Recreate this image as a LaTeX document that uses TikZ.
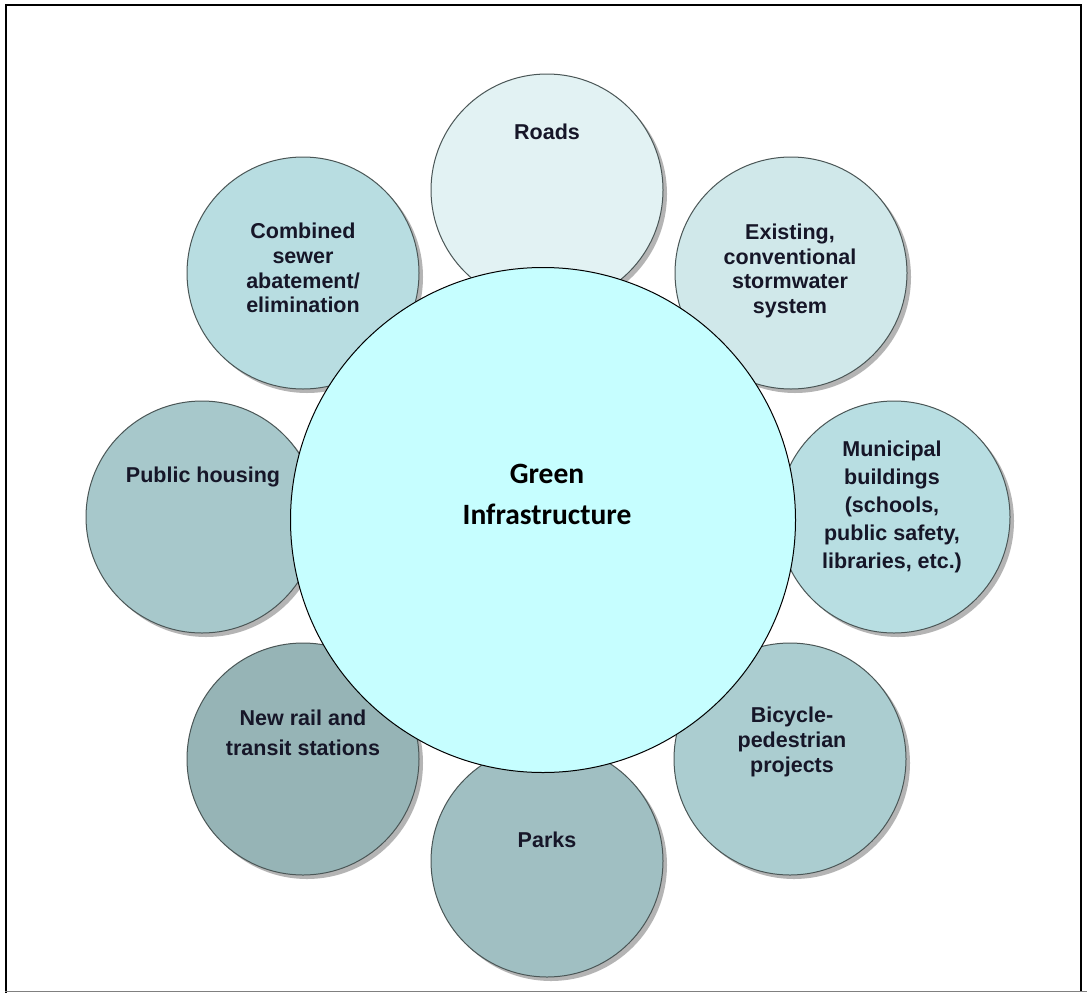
\documentclass[tikz,border=0pt]{standalone}
\usepackage{fontspec}
\setmainfont{Liberation Sans}
\newfontfamily\calfont{Carlito}
\usetikzlibrary{shadows}
\definecolor{cRoads}{HTML}{E2F2F3}
\definecolor{cExist}{HTML}{D0E8EA}
\definecolor{cMunic}{HTML}{B8DEE2}
\definecolor{cComb}{HTML}{B8DDE1}
\definecolor{cHous}{HTML}{A7C8CB}
\definecolor{cRail}{HTML}{96B4B6}
\definecolor{cParks}{HTML}{A0BFC2}
\definecolor{cBike}{HTML}{ABCDD0}
\definecolor{cCenter}{HTML}{C6FEFF}
\definecolor{satline}{HTML}{4A5656}
\definecolor{shadowgray}{HTML}{B4B4B4}
\definecolor{txt}{HTML}{161628}
\begin{document}
\begin{tikzpicture}[x=1pt,y=-1pt,
  sat/.style={circle, draw=satline, line width=1pt, minimum size=232pt, inner sep=0pt,
    drop shadow={shadow xshift=4pt, shadow yshift=-4pt, fill=shadowgray, opacity=1}},
  lbl/.style={align=center, font=\fontsize{21.5}{24.7}\selectfont\bfseries, text=txt, inner sep=0pt},
  hub/.style={circle, draw=black, line width=1pt, fill=cCenter, minimum size=505pt, inner sep=0pt}]
\useasboundingbox (0,0) rectangle (1087,993);
\fill[white] (0,0) rectangle (1087,993);
% frame
\draw[line width=2.5pt] (6,993) -- (6,5) -- (1081,5) -- (1081,991);
\draw[line width=1.5pt, gray] (5,991.5) -- (1087,991.5);
% satellites
\node[sat, fill=cRoads] (roads) at (547,190) {};
\node[sat, fill=cExist] (exist) at (791,273) {};
\node[sat, fill=cComb] (comb) at (303,273) {};
\node[sat, fill=cMunic] (munic) at (894,517) {};
\node[sat, fill=cHous] (hous) at (202,517) {};
\node[sat, fill=cBike] (bike) at (790,759) {};
\node[sat, fill=cRail] (rail) at (303,759) {};
\node[sat, fill=cParks] (parks) at (547,861) {};
% hub
\node[hub] (hub) at (543,520) {};
% labels
\node[lbl] (roads-t) at (547,132) {Roads};
\node[lbl] (exist-t) at (790,271) {Existing,\\conventional\\stormwater\\system};
\node[lbl] (comb-t) at (303,268) {Combined\\sewer\\abatement/\\elimination};
\node[lbl, font=\fontsize{21.5}{28}\selectfont\bfseries] (munic-t) at (892,507) {Municipal\\buildings\\(schools,\\public safety,\\libraries, etc.)};
\node[lbl] (hous-t) at (203,477) {Public housing};
\node[lbl] (bike-t) at (792,742) {Bicycle-\\pedestrian\\projects};
\node[lbl, font=\fontsize{21.5}{30}\selectfont\bfseries] (rail-t) at (303,733) {New rail and\\transit stations};
\node[lbl] (parks-t) at (547,840) {Parks};
\node[align=center, inner sep=0pt, font=\calfont\bfseries\fontsize{29.5}{41}\selectfont, text=black] (hub-t) at (547,494) {Green\\Infrastructure};
\end{tikzpicture}
\end{document}
